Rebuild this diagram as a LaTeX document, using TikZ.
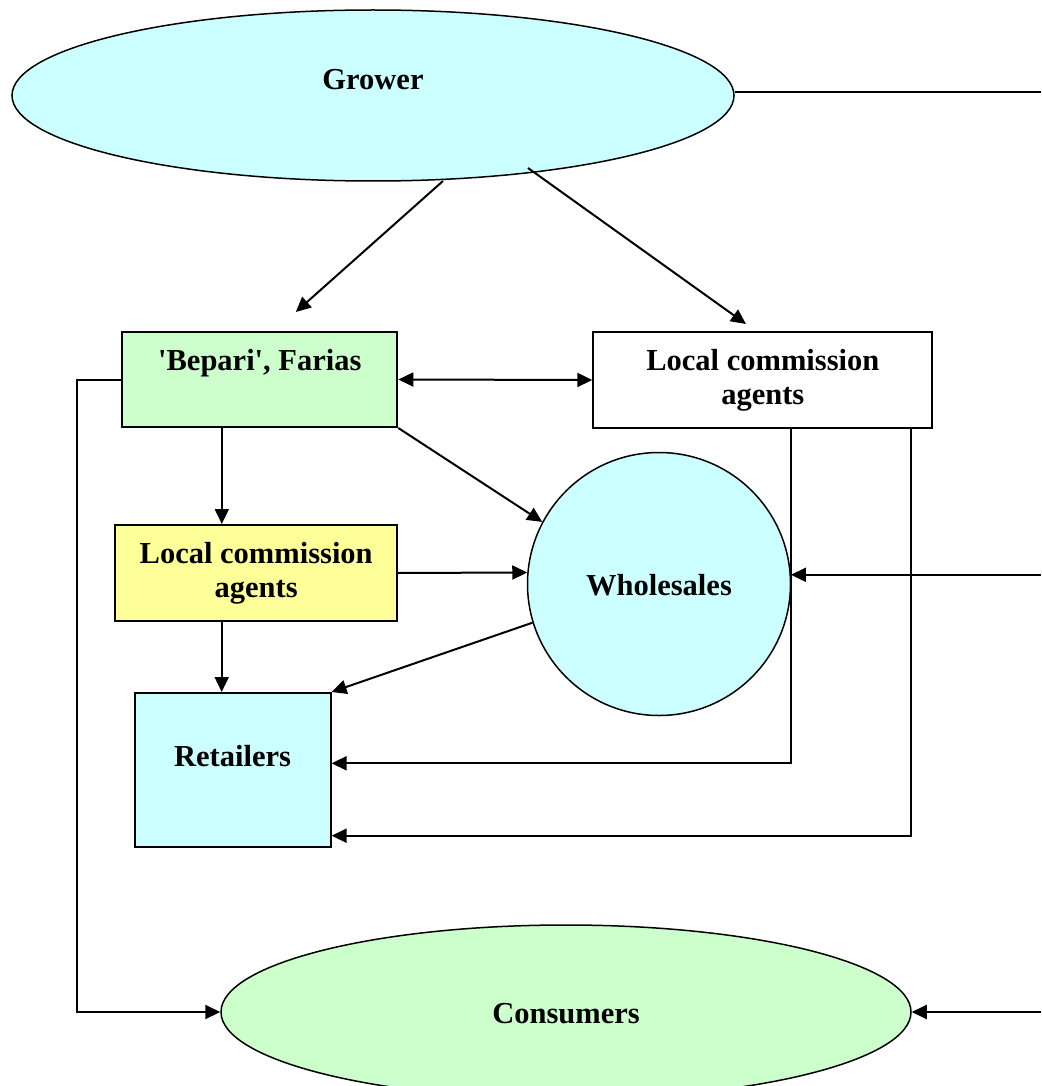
\documentclass[tikz,border=0pt]{standalone}
\usepackage{fontspec}
\setmainfont{Liberation Serif}
\usetikzlibrary{shapes.geometric,arrows.meta,calc}
\definecolor{cyanfill}{HTML}{CCFFFF}
\definecolor{greenfill}{HTML}{CCFFCC}
\definecolor{yellowfill}{HTML}{FFFF99}
\begin{document}
\begin{tikzpicture}[x=1pt,y=-1pt,
  lbl/.style={font=\fontsize{30.5}{34}\selectfont\bfseries, align=center},
  boxshape/.style={draw, line width=2pt, inner sep=0pt, lbl},
  roundshape/.style={draw, line width=1.5pt, inner sep=0pt, lbl},
  conn/.style={line width=2pt},
  arr/.style={conn, -{Triangle[length=15pt,width=14pt]}},
  darr/.style={conn, {Triangle[length=15pt,width=14pt]}-{Triangle[length=15pt,width=14pt]}}
]
\useasboundingbox (0,0) rectangle (1041,1086);
\coordinate (redge) at (1041,0);

\node[roundshape, ellipse, fill=cyanfill, minimum width=722pt, minimum height=171pt,
      text height=22pt, text depth=33pt] (grower) at (373,95.5) {Grower};
\node[boxshape, rectangle, fill=greenfill, minimum width=275pt, minimum height=95pt,
      text height=22pt, text depth=41pt] (bepari) at (259.8,379.5) {\textquotesingle Bepari\textquotesingle, Farias};
\node[boxshape, rectangle, fill=white, minimum width=339pt, minimum height=96pt]
      (lcatop) at (762.8,380) {Local commission\\agents};
\node[boxshape, rectangle, fill=yellowfill, minimum width=282pt, minimum height=96pt]
      (yel) at (256.2,573) {Local commission\\agents};
\node[roundshape, circle, fill=cyanfill, minimum size=263pt,
      text height=22pt, text depth=-4pt] (whole) at (659,584) {Wholesales};
\node[boxshape, rectangle, fill=cyanfill, minimum width=196pt, minimum height=154pt,
      text height=22pt, text depth=29pt] (ret) at (232.6,770) {Retailers};
\node[roundshape, ellipse, fill=greenfill, minimum width=690pt, minimum height=174pt,
      text height=22pt, text depth=0pt] (cons) at (566,1012) {Consumers};

% connectors
\draw[arr] ($(grower.center)+(70,85.5)$) -- ($(bepari.north)+(36,-19)$);
\draw[arr] ($(grower.center)+(155,72.5)$) -- ($(lcatop.north)+(-16.8,-7)$);
\draw[conn, line width=2.4pt] ([yshift=3.5pt]grower.east) -- ([yshift=3.5pt]grower.east -| redge);
\draw[darr] (bepari.east) -- (lcatop.west);
\draw[arr] ([xshift=-38pt]bepari.south) -- ([xshift=-38pt]bepari.south |- yel.north);
\draw[arr] (bepari.south east) -- (whole.152.6);
\draw[arr] (yel.east) -- (whole.175.2);
\draw[arr] (redge |- whole.4.8) -- (whole.4.8);
\draw[arr] ([xshift=-34.5pt]yel.south) -- ([xshift=-34.5pt]yel.south |- ret.north);
\draw[arr] (whole.197.1) -- (ret.north east);
\draw[arr] ([xshift=27.8pt]lcatop.south) |- ([yshift=6.7pt]ret.east);
\draw[arr] ([xshift=147.8pt]lcatop.south) |- ([yshift=-65.7pt]ret.east);
\draw[arr] (bepari.west) -- ++(-44,0) |- (cons.west);
\draw[arr] (redge |- cons.east) -- (cons.east);
\end{tikzpicture}
\end{document}
